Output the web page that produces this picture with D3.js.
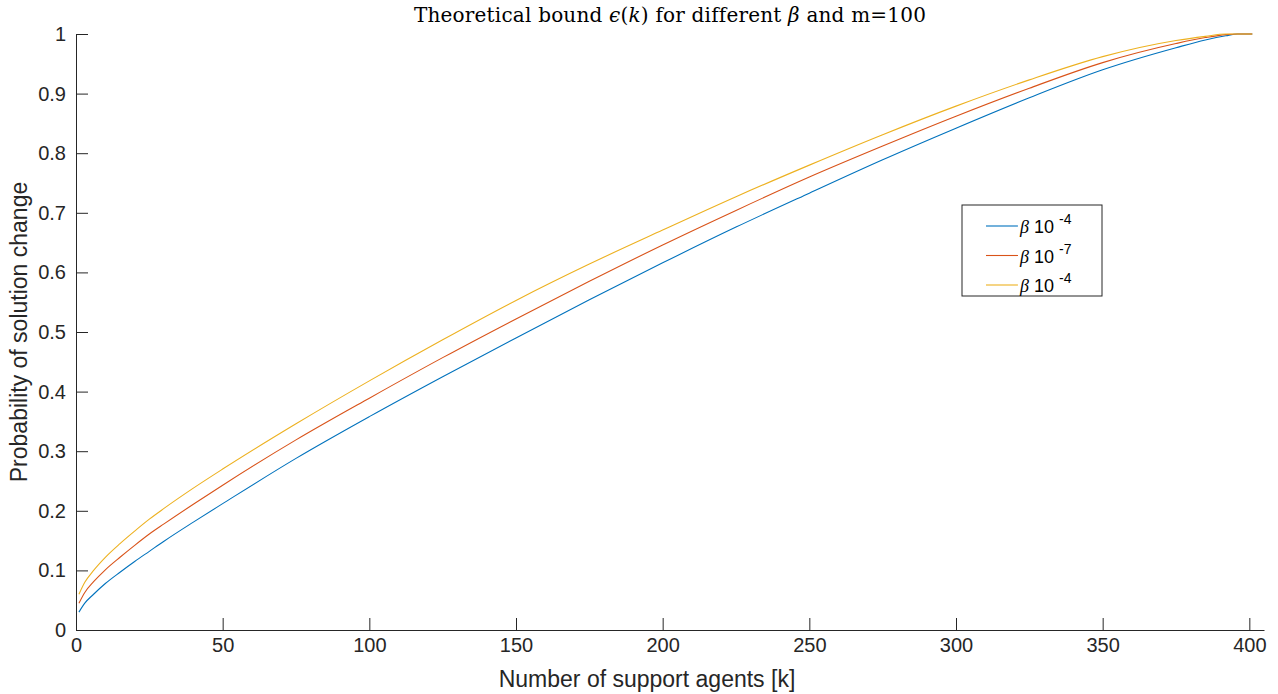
<!DOCTYPE html>
<html>
<head>
<meta charset="utf-8">
<script src="https://cdn.jsdelivr.net/npm/d3@7"></script>
<style>
  body { margin: 0; background: #fff; }
  svg { display: block; }
  .tick text { font-family: "Liberation Sans", Arial, sans-serif; font-size: 20px; fill: #262626; }
</style>
</head>
<body>
<div id="chart"></div>
<script>
// Data
const kValues = [1, 3, 6, 10, 15, 20, 25, 30, 40, 50, 75, 100, 125, 150, 175, 200, 225, 250, 275, 300, 325, 350, 375, 385, 392, 396, 401];
const blueValues = [0.030, 0.045, 0.060, 0.078, 0.097, 0.115, 0.132, 0.149, 0.181, 0.212, 0.288, 0.358, 0.425, 0.490, 0.554, 0.616, 0.676, 0.733, 0.789, 0.842, 0.893, 0.940, 0.977, 0.990, 0.997, 1.0, 1.0];
const redValues = [0.045, 0.063, 0.081, 0.101, 0.122, 0.142, 0.161, 0.178, 0.211, 0.243, 0.319, 0.389, 0.457, 0.522, 0.585, 0.646, 0.704, 0.760, 0.812, 0.862, 0.909, 0.952, 0.984, 0.994, 0.999, 1.0, 1.0];
const yellowValues = [0.060, 0.080, 0.100, 0.122, 0.145, 0.166, 0.186, 0.204, 0.238, 0.270, 0.346, 0.418, 0.487, 0.553, 0.614, 0.671, 0.727, 0.780, 0.831, 0.879, 0.923, 0.962, 0.989, 0.996, 1.0, 1.0, 1.0];
const seriesNames = ["-4", "-7", "-4"];
const seriesColors = ["#0072BD", "#D95319", "#EDB120"];
const xTicks = [0, 50, 100, 150, 200, 250, 300, 350, 400];
const yTicks = [0, 0.1, 0.2, 0.3, 0.4, 0.5, 0.6, 0.7, 0.8, 0.9, 1];

const W = 1278, H = 694;
const margin = {top: 34, right: 14, bottom: 64, left: 76},
    width = W - margin.left - margin.right,
    height = H - margin.top - margin.bottom;

const svg = d3.select("#chart").append("svg")
    .attr("width", W)
    .attr("height", H);
const g = svg.append("g")
    .attr("transform", "translate(" + margin.left + "," + margin.top + ")");

const x = d3.scaleLinear().domain([0, 405]).range([0, width]);
const y = d3.scaleLinear().domain([0, 1]).range([height, 0]);

// Axes (MATLAB style: ticks inward)
const xAxis = g.append("g")
    .attr("transform", "translate(0," + height + ")")
    .call(d3.axisBottom(x).tickValues(xTicks).tickSize(-12).tickPadding(8).tickFormat(d3.format("d")).tickSizeOuter(0));
const yAxis = g.append("g")
    .call(d3.axisLeft(y).tickValues(yTicks).tickSize(-12).tickPadding(10).tickFormat(d => d === 0 || d === 1 ? d : d3.format(".1f")(d)).tickSizeOuter(0));
[xAxis, yAxis].forEach(a => {
  a.selectAll("path.domain").attr("stroke", "#262626");
  a.selectAll(".tick line").attr("stroke", "#262626");
});

// Lines
const allSeries = [blueValues, redValues, yellowValues];
const line = d3.line()
    .x((d, i) => x(kValues[i]))
    .y(d => y(d))
    .curve(d3.curveMonotoneX);
allSeries.forEach((vals, i) => {
  g.append("path")
    .datum(vals)
    .attr("fill", "none")
    .attr("stroke", seriesColors[i])
    .attr("stroke-width", 1.1)
    .attr("d", line);
});

// Title
const title = svg.append("text")
    .attr("x", 670)
    .attr("y", 22)
    .attr("text-anchor", "middle")
    .style("font-family", "'DejaVu Serif', serif")
    .style("font-size", "20px")
    .style("letter-spacing", "0.2px")
    .style("fill", "#000");
title.append("tspan").text("Theoretical bound ");
title.append("tspan").style("font-style", "italic").text("ϵ");
title.append("tspan").text("(");
title.append("tspan").style("font-style", "italic").text("k");
title.append("tspan").text(") for different ");
title.append("tspan").style("font-style", "italic").text("β");
title.append("tspan").text(" and m=100");

// Axis labels
svg.append("text")
    .attr("x", 647)
    .attr("y", 687)
    .attr("text-anchor", "middle")
    .style("font-family", "'Liberation Sans', Arial, sans-serif")
    .style("font-size", "23px")
    .style("fill", "#262626")
    .text("Number of support agents [k]");
svg.append("text")
    .attr("transform", "translate(27," + (margin.top + height / 2) + ") rotate(-90)")
    .attr("text-anchor", "middle")
    .style("font-family", "'Liberation Sans', Arial, sans-serif")
    .style("font-size", "23px")
    .style("fill", "#262626")
    .text("Probability of solution change");

// Legend
const legend = svg.append("g").attr("transform", "translate(962,205)");
legend.append("rect")
    .attr("width", 140).attr("height", 91)
    .attr("fill", "#fff")
    .attr("stroke", "#262626")
    .attr("stroke-width", 1);
seriesNames.forEach((name, i) => {
  const row = legend.append("g").attr("transform", "translate(0," + (21 + i * 29.5) + ")");
  row.append("line")
    .attr("x1", 24).attr("x2", 56)
    .attr("stroke", seriesColors[i])
    .attr("stroke-width", 1.1);
  const t = row.append("text")
    .attr("x", 58)
    .attr("y", 7)
    .style("font-family", "'Liberation Sans', Arial, sans-serif")
    .style("font-size", "18px")
    .style("fill", "#000");
  t.append("tspan").style("font-style", "italic").style("font-family", "'Liberation Serif', serif").text("β");
  t.append("tspan").text(" 10 ");
  t.append("tspan").attr("dy", -9).style("font-size", "14px").text(name);
});
</script>
</body>
</html>
